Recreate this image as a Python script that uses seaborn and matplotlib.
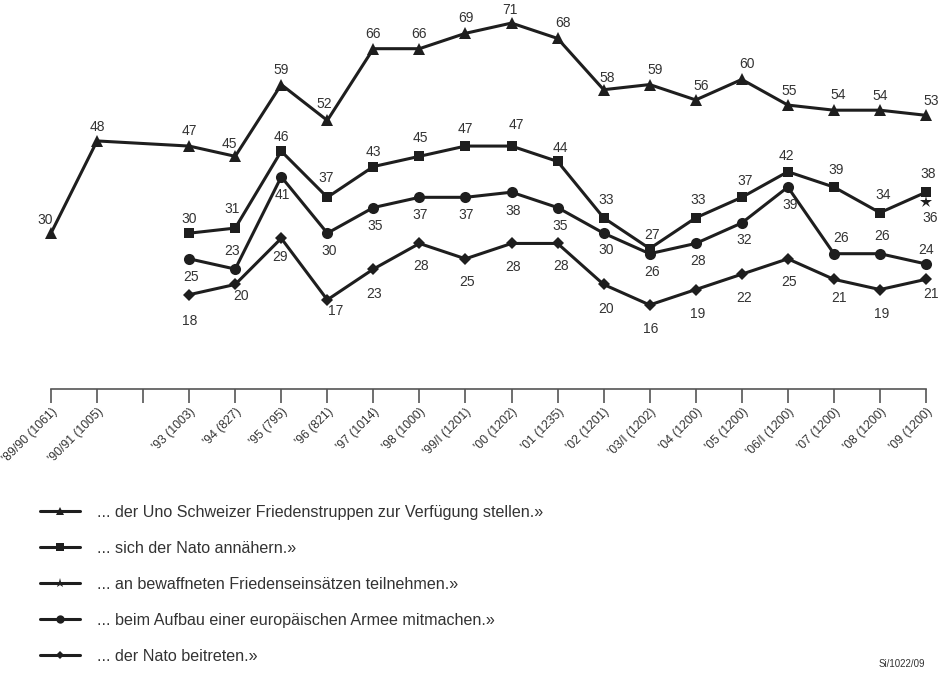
import numpy as np
import pandas as pd
from matplotlib import pyplot as plt
from matplotlib.lines import Line2D
import matplotlib.transforms as mtransforms
import seaborn as sns

# survey waves (year of the wave) and axis labels with sample sizes
years = [1990, 1991, 1992, 1993, 1994, 1995, 1996, 1997, 1998, 1999,
         2000, 2001, 2002, 2003, 2004, 2005, 2006, 2007, 2008, 2009]
tick_labels = ["'89/90 (1061)", "'90/91 (1005)", "", "'93 (1003)", "'94 (827)",
               "'95 (795)", "'96 (821)", "'97 (1014)", "'98 (1000)", "'99/I (1201)",
               "'00 (1202)", "'01 (1235)", "'02 (1201)", "'03/I (1202)", "'04 (1200)",
               "'05 (1200)", "'06/I (1200)", "'07 (1200)", "'08 (1200)", "'09 (1200)"]

uno_years = [1990, 1991, 1993, 1994, 1995, 1996, 1997, 1998, 1999, 2000,
             2001, 2002, 2003, 2004, 2005, 2006, 2007, 2008, 2009]
uno = [30, 48, 47, 45, 59, 52, 66, 66, 69, 71, 68, 58, 59, 56, 60, 55, 54, 54, 53]

later_years = [1993, 1994, 1995, 1996, 1997, 1998, 1999, 2000, 2001,
               2002, 2003, 2004, 2005, 2006, 2007, 2008, 2009]
nato_approach = [30, 31, 46, 37, 43, 45, 47, 47, 44, 33, 27, 33, 37, 42, 39, 34, 38]
eu_army = [25, 23, 41, 30, 35, 37, 37, 38, 35, 30, 26, 28, 32, 39, 26, 26, 24]
nato_join = [18, 20, 29, 17, 23, 28, 25, 28, 28, 20, 16, 19, 22, 25, 21, 19, 21]

armed_years = [2009]
armed_missions = [36]

labels = ["... der Uno Schweizer Friedenstruppen zur Verfügung stellen.»",
          "... sich der Nato annähern.»",
          "... an bewaffneten Friedenseinsätzen teilnehmen.»",
          "... beim Aufbau einer europäischen Armee mitmachen.»",
          "... der Nato beitreten.»"]

# label offsets in pixels (dx, dy) from each marker
uno_off = [(-6, 13), (0, 14), (0, 15), (-6, 12), (0, 15), (-3, 16), (0, 15), (0, 15),
           (0, 15), (-2, 13), (5, 15), (4, 12), (5, 15), (5, 14), (5, 15), (1, 14),
           (4, 15), (0, 14), (5, 14)]
approach_off = [(0, 14), (-3, 19), (0, 14), (-1, 19), (0, 15), (1, 18), (0, 17), (5, 21),
                (3, 13), (3, 18), (2, 14), (2, 18), (3, 16), (-1, 16), (2, 17), (3, 18),
                (2, 18)]
army_off = [(2, -18), (-3, 18), (1, -18), (2, -18), (2, -18), (1, -18), (1, -18), (2, -19),
            (3, -18), (3, -17), (2, -18), (2, -18), (2, -17), (2, -18), (7, 16), (2, 18),
            (0, 14)]
join_off = [(1, -26), (6, -12), (-1, -19), (8, -11), (1, -25), (2, -23), (2, -23), (2, -24),
            (3, -23), (2, -25), (1, -24), (2, -24), (2, -24), (1, -23), (5, -19), (2, -24),
            (5, -15)]
armed_off = [(4, -16)]

series = [
    (uno_years, uno, "^", 8, uno_off),
    (later_years, nato_approach, "s", 7, approach_off),
    (armed_years, armed_missions, "*", 9, armed_off),
    (later_years, eu_army, "o", 8, army_off),
    (later_years, nato_join, "D", 6, join_off),
]

sns.set_style("white")
plt.rcParams['font.family'] = ['Liberation Sans', 'DejaVu Sans']

ink = "#1e1e1e"
txt = "#333333"

fig = plt.figure(figsize=(9.44, 6.8), dpi=100)
ax = fig.add_axes([51 / 944, 291 / 680, 875 / 944, 389 / 680])

for (xs, ys, marker, ms, offs), label in zip(series, labels):
    df = pd.DataFrame({"year": xs, "value": ys})
    sns.lineplot(data=df, x="year", y="value", ax=ax, color=ink, linewidth=2.2,
                 marker=marker, markersize=ms, markeredgewidth=0, clip_on=False,
                 label=label, legend=False)
    for x, y, (dx, dy) in zip(xs, ys, offs):
        ax.annotate(str(y), (x, y), xytext=(dx, dy), textcoords="offset pixels",
                    ha="center", va="center", fontsize=10, color=txt)

ax.set_xlim(1990, 2009)
ax.set_ylim(-0.4, 75.5)
ax.set_xticks(years)
ax.set_xticklabels(tick_labels, rotation=45, ha="right", rotation_mode="anchor",
                   fontsize=8.8, color=txt)
shift = mtransforms.ScaledTranslation(7 / 100, -4 / 100, fig.dpi_scale_trans)
for t in ax.get_xticklabels():
    t.set_transform(t.get_transform() + shift)
ax.set_yticks([])
ax.set_xlabel("")
ax.set_ylabel("")
for side in ["top", "left", "right"]:
    ax.spines[side].set_visible(False)
ax.spines["bottom"].set_color("#555555")
ax.spines["bottom"].set_linewidth(1.2)
ax.tick_params(axis="x", direction="out", length=10, width=1.2, color="#555555", pad=2,
               bottom=True)
ax.patch.set_alpha(0)

handles = [Line2D([], [], color=ink, linewidth=2.2, marker=m, markersize=s * 0.75,
                  markeredgewidth=0) for (_, _, m, s, _) in series]
fig.legend(handles, labels, loc="upper left", bbox_to_anchor=(40 / 944, 1 - 505 / 680),
           frameon=False, fontsize=11.6, handlelength=2.5, handletextpad=1.05,
           labelspacing=1.3, labelcolor=txt, borderaxespad=0, borderpad=0)

fig.text(925 / 944, 1 - 664 / 680, "Si/1022/09", fontsize=7, color=txt,
         ha="right", va="center")

fig.savefig("out.png", dpi=100)
